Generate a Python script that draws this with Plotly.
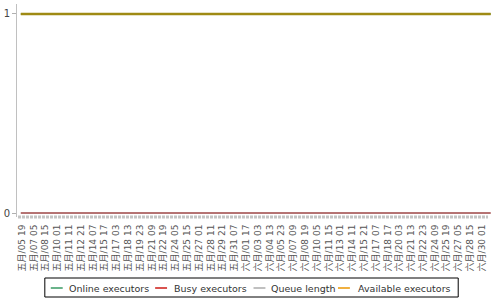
import plotly.graph_objects as go
from datetime import datetime, timedelta

# ---- data ----
tick_labels = [
    "五月/05 19", "五月/07 05", "五月/08 15", "五月/10 01", "五月/11 11", "五月/12 21",
    "五月/14 07", "五月/15 17", "五月/17 03", "五月/18 13", "五月/19 23", "五月/21 09",
    "五月/22 19", "五月/24 05", "五月/25 15", "五月/27 01", "五月/28 11", "五月/29 21",
    "五月/31 07", "六月/01 17", "六月/03 03", "六月/04 13", "六月/05 23", "六月/07 09",
    "六月/08 19", "六月/10 05", "六月/11 15", "六月/13 01", "六月/14 11", "六月/15 21",
    "六月/17 07", "六月/18 17", "六月/20 03", "六月/21 13", "六月/22 23", "六月/24 09",
    "六月/25 19", "六月/27 05", "六月/28 15", "六月/30 01",
]
sample_times = ["2015-05-05 16:00", "2015-07-01 02:00"]
online_executors = [1, 1]
busy_executors = [0, 0]
queue_length = [0, 0]
available_executors = [1, 1]
series_names = ["Online executors", "Busy executors", "Queue length", "Available executors"]
legend_colors = ["#6ab38a", "#d9534f", "#c0c0c0", "#f0b040"]

# ---- derive tick positions from labels ----
month_map = {"五月": 5, "六月": 6}
def label_to_time(lbl):
    m, rest = lbl.split("/")
    d, h = rest.split(" ")
    return datetime(2015, month_map[m], int(d), int(h))

tick_vals = [label_to_time(l) for l in tick_labels]

fig = go.Figure()

fig.add_trace(go.Scatter(x=sample_times, y=online_executors, mode="lines", name=series_names[0],
                         line=dict(color="#6a9a4a", width=2), showlegend=False, hoverinfo="skip"))
fig.add_trace(go.Scatter(x=sample_times, y=busy_executors, mode="lines", name=series_names[1],
                         line=dict(color="#b06060", width=1.5), showlegend=False, hoverinfo="skip"))
fig.add_trace(go.Scatter(x=sample_times, y=queue_length, mode="lines", name=series_names[2],
                         line=dict(color="#a86060", width=1), showlegend=False, hoverinfo="skip"))
fig.add_trace(go.Scatter(x=sample_times, y=available_executors, mode="lines", name=series_names[3],
                         line=dict(color="#9f8a14", width=2.5), showlegend=False, hoverinfo="skip"))

# ---- layout geometry (pixels) ----
W, H = 500, 300
L, R, T, B = 14, 9, 4, 83
pw, ph = W - L - R, H - T - B
def px(x):
    return (x - L) / pw
def py(y):
    return (H - B - y) / ph

shapes = []
# dense category tick band along the bottom of the plot
shapes.append(dict(type="line", xref="paper", yref="paper",
                   x0=px(15), x1=px(488), y0=py(217), y1=py(217),
                   line=dict(color="#c4c4c4", width=3, dash="3px,1px"), layer="above"))

# manual legend (compact, like the original)
shapes.append(dict(type="rect", xref="paper", yref="paper",
                   x0=px(42), x1=px(458), y0=py(297), y1=py(278),
                   line=dict(color="black", width=1), fillcolor="white", layer="above"))
annotations = []
entry_line_x = [48, 153, 252, 337]
entry_text_x = [64, 170, 268, 355]
ly = 288
for name, col, lx, tx in zip(series_names, legend_colors, entry_line_x, entry_text_x):
    shapes.append(dict(type="line", xref="paper", yref="paper",
                       x0=px(lx), x1=px(lx + 12), y0=py(ly), y1=py(ly),
                       line=dict(color=col, width=2), layer="above"))
    annotations.append(dict(text=name, xref="paper", yref="paper", x=px(tx), y=py(ly),
                            xanchor="left", yanchor="middle", showarrow=False,
                            font=dict(family="DejaVu Sans", size=9.5, color="#333333")))

x_start = tick_vals[0] - timedelta(hours=14)
x_end = tick_vals[-1] + timedelta(hours=26)

fig.update_layout(
    width=W, height=H,
    margin=dict(l=L, r=R, t=T, b=B),
    paper_bgcolor="white", plot_bgcolor="white",
    font=dict(family="DejaVu Sans", size=11, color="#333333"),
    showlegend=False,
    shapes=shapes, annotations=annotations,
    xaxis=dict(
        type="date", range=[x_start, x_end],
        tickmode="array", tickvals=tick_vals, ticktext=tick_labels,
        tickangle=-90, tickfont=dict(family="DejaVu Sans, Noto Sans CJK SC", size=9, color="#555555"),
        ticks="outside", ticklen=3, tickcolor="rgba(0,0,0,0)",
        showgrid=False, showline=False, zeroline=False,
    ),
    yaxis=dict(
        range=[-0.02, 1.05], tickmode="array", tickvals=[0, 1], ticktext=["0", "1"],
        ticks="outside", ticklen=4, tickcolor="#b0b0b0",
        tickfont=dict(family="DejaVu Sans", size=10, color="#444444"),
        showgrid=False, zeroline=False, showline=True, linecolor="#c0c0c0", linewidth=1,
    ),
)

fig.write_html("out.html")
